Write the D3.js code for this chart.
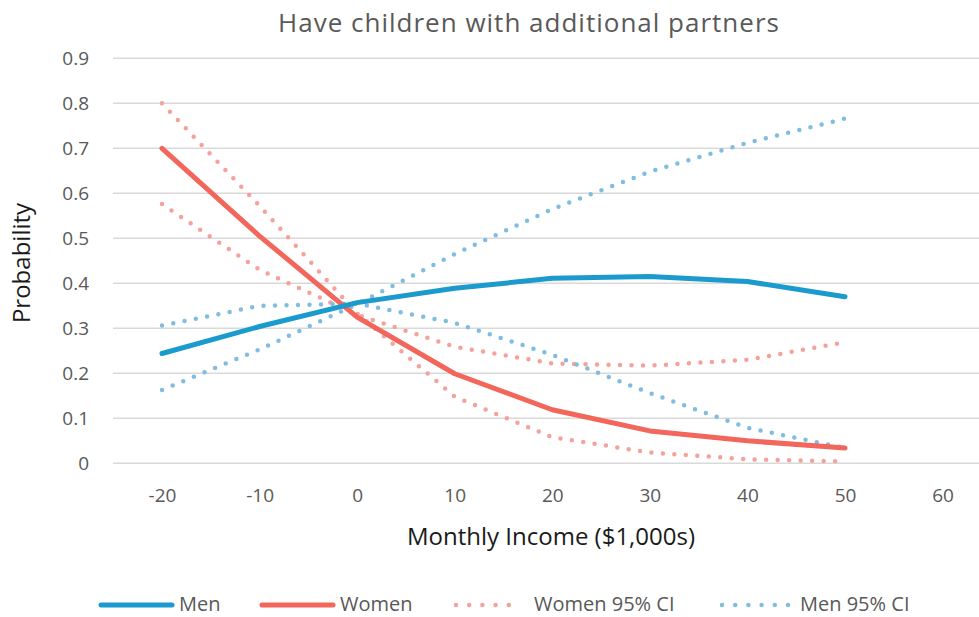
<!DOCTYPE html>
<html>
<head>
<meta charset="utf-8">
<script src="https://cdn.jsdelivr.net/npm/d3@7"></script>
<style>
  html, body { margin: 0; padding: 0; background: #fff; }
  svg { display: block; font-family: "Open Sans", Lato, sans-serif; }
</style>
</head>
<body>
<svg id="chart" width="979" height="617"></svg>
<script>
// Monthly income (thousands of dollars) at which probabilities were estimated
const income = [-20, -10, 0, 10, 20, 30, 40, 50];

// Predicted probability of having children with additional partners
const men   = [0.244, 0.304, 0.357, 0.389, 0.411, 0.415, 0.404, 0.370];
const women = [0.700, 0.505, 0.325, 0.199, 0.119, 0.072, 0.050, 0.034];

// 95% confidence bounds (the two bounds of each group cross near zero income)
const womenCiA = [0.800, 0.572, 0.333, 0.148, 0.058, 0.024, 0.009, 0.004];
const womenCiB = [0.576, 0.430, 0.330, 0.259, 0.222, 0.217, 0.230, 0.269];
const menCiA   = [0.163, 0.253, 0.354, 0.465, 0.565, 0.648, 0.712, 0.766];
const menCiB   = [0.306, 0.350, 0.355, 0.312, 0.241, 0.156, 0.079, 0.034];

const xTicks = [-20, -10, 0, 10, 20, 30, 40, 50, 60];
const yTicks = [0, 0.1, 0.2, 0.3, 0.4, 0.5, 0.6, 0.7, 0.8, 0.9];

const title = "Have children with additional partners";
const xTitle = "Monthly Income ($1,000s)";
const yTitle = "Probability";

const BLUE = "#1a9acd", RED = "#f2665b", RED_CI = "#f5a29b", BLUE_CI = "#80bde0";
const FONT = "'Open Sans', Lato, sans-serif";

const svg = d3.select("#chart");
const plotLeft = 113, plotRight = 979;

const x = d3.scaleLinear().domain([-20, 50]).range([162, 845]);
const y = d3.scaleLinear().domain([0, 0.9]).range([463.3, 58.3]);

// Title
svg.append("text")
  .attr("x", 529).attr("y", 32)
  .attr("text-anchor", "middle")
  .attr("font-size", 26)
  .attr("letter-spacing", 1)
  .attr("fill", "#595959")
  .text(title);

// Horizontal gridlines
svg.append("g")
  .selectAll("line")
  .data(yTicks)
  .join("line")
  .attr("x1", plotLeft).attr("x2", plotRight)
  .attr("y1", d => y(d)).attr("y2", d => y(d))
  .attr("stroke", "#d9d9d9")
  .attr("stroke-width", 1.5);

// Y axis labels
const yAxis = d3.axisLeft(y).tickValues(yTicks).tickSize(0).tickPadding(0)
  .tickFormat(d => d === 0 ? "0" : d3.format(".1f")(d));
svg.append("g")
  .attr("transform", "translate(89,0)")
  .call(yAxis)
  .call(g => g.select(".domain").remove())
  .call(g => g.selectAll("text")
    .attr("font-family", FONT)
    .attr("font-size", 19)
    .attr("fill", "#595959"));

// X axis labels (plain hyphen for negatives)
const xAxis = d3.axisBottom(x).tickValues(xTicks).tickSize(0).tickPadding(0)
  .tickFormat(d => String(d));
svg.append("g")
  .attr("transform", "translate(0,488)")
  .call(xAxis)
  .call(g => g.select(".domain").remove())
  .call(g => g.selectAll("text")
    .attr("font-family", FONT)
    .attr("font-size", 19)
    .attr("fill", "#595959"));

// Axis titles
svg.append("text")
  .attr("x", 551).attr("y", 545)
  .attr("text-anchor", "middle")
  .attr("font-size", 24)
  .attr("fill", "#1a1a1a")
  .text(xTitle);

svg.append("text")
  .attr("transform", "translate(30,263) rotate(-90)")
  .attr("text-anchor", "middle")
  .attr("font-size", 24)
  .attr("fill", "#1a1a1a")
  .text(yTitle);

// Series
const line = d3.line().x((d, i) => x(income[i])).y(d => y(d));

const series = [
  { values: womenCiA, color: RED_CI, dotted: true },
  { values: womenCiB, color: RED_CI, dotted: true },
  { values: menCiA, color: BLUE_CI, dotted: true },
  { values: menCiB, color: BLUE_CI, dotted: true },
  { values: women, color: RED, dotted: false },
  { values: men, color: BLUE, dotted: false }
];

svg.append("g")
  .selectAll("path")
  .data(series)
  .join("path")
  .attr("d", d => line(d.values))
  .attr("fill", "none")
  .attr("stroke", d => d.color)
  .attr("stroke-width", d => d.dotted ? 4.5 : 5)
  .attr("stroke-linecap", "round")
  .attr("stroke-linejoin", "round")
  .attr("stroke-dasharray", d => d.dotted ? "0,11.5" : null);

// Legend
const legend = [
  { label: "Men", color: BLUE, dotted: false, x1: 101, x2: 172, tx: 179 },
  { label: "Women", color: RED, dotted: false, x1: 262, x2: 333, tx: 340 },
  { label: "Women 95% CI", color: RED_CI, dotted: true, x1: 456, x2: 522, tx: 534 },
  { label: "Men 95% CI", color: BLUE_CI, dotted: true, x1: 722, x2: 789, tx: 800 }
];
const ly = 605;
const lg = svg.append("g").selectAll("g").data(legend).join("g");
lg.append("line")
  .attr("x1", d => d.x1).attr("x2", d => d.x2)
  .attr("y1", ly).attr("y2", ly)
  .attr("stroke", d => d.color)
  .attr("stroke-width", d => d.dotted ? 4.5 : 5)
  .attr("stroke-linecap", "round")
  .attr("stroke-dasharray", d => d.dotted ? "0,13.2" : null);
lg.append("text")
  .attr("x", d => d.tx).attr("y", 611)
  .attr("font-size", 20)
  .attr("fill", "#595959")
  .text(d => d.label);
</script>
</body>
</html>
